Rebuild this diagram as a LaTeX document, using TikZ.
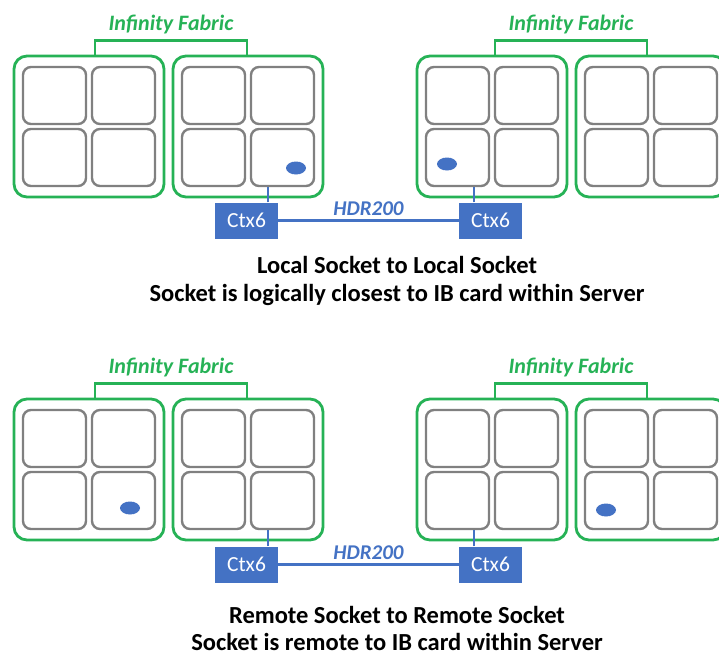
\documentclass[tikz,border=0pt]{standalone}
\usepackage{fontspec}
\setmainfont{Carlito}
\usetikzlibrary{positioning}
\usetikzlibrary{shapes.geometric}

\definecolor{fabricgreen}{RGB}{38,178,86}
\definecolor{coregray}{RGB}{128,128,128}
\definecolor{ibblue}{RGB}{68,114,196}

\tikzset{
    socket/.style={draw=fabricgreen, line width=2.8pt, rounded corners=13pt,
        minimum width=150pt, minimum height=141pt, inner sep=0pt},
    core/.style={draw=coregray, line width=2.4pt, rounded corners=8pt,
        minimum width=63pt, minimum height=57pt, inner sep=0pt},
    fabric/.style={draw=fabricgreen, line width=2.8pt},
    fabriclabel/.style={text=fabricgreen, font=\fontsize{22}{26}\selectfont\bfseries\itshape},
    ctx/.style={fill=ibblue, text=white, minimum width=63pt, minimum height=36pt,
        inner sep=0pt, font=\fontsize{21.5}{24}\selectfont},
    ib/.style={draw=ibblue, line width=2.6pt},
    iblabel/.style={text=ibblue, font=\fontsize{21}{24}\selectfont\bfseries\itshape},
    rank/.style={ellipse, fill=ibblue, minimum width=20pt, minimum height=13pt, inner sep=0pt},
    caption/.style={font=\fontsize{24.5}{28}\selectfont\bfseries, inner sep=1pt},
}

\begin{document}
\begin{tikzpicture}[x=1pt, y=-1pt]
    \useasboundingbox (0,0) rectangle (719,658);
    \clip (0,0) rectangle (719,658);

    % Sockets and cores, top row (t) and bottom row (b)
    \foreach \rw/\yo in {t/0, b/343} {
        \foreach \sk/\xo in {1/14, 2/173, 3/417, 4/576} {
            \node[socket] (\rw\sk) at (\xo+75, \yo+126.5) {};
            \foreach \cn/\dx/\dy in {1/0/0, 2/69/0, 3/0/62, 4/69/62}
                \node[core] (\rw\sk c\cn) at (\xo+40.5+\dx, \yo+95.5+\dy) {};
        }
    }

    % Infinity Fabric links
    \foreach \rw in {t, b} {
        \draw[fabric] ([xshift=6pt]\rw1.north) -- ++(0,14pt)
            -| node[fabriclabel, pos=0.25, above=2pt] {Infinity Fabric} ([xshift=-1pt]\rw2.north);
        \draw[fabric] ([xshift=3pt]\rw3.north) -- ++(0,14pt)
            -| node[fabriclabel, pos=0.25, above=2pt] {Infinity Fabric} ([xshift=-4pt]\rw4.north);
    }

    % IB cards
    \node[ctx] (tx1) at (246.5, 220.5) {Ctx6};
    \node[ctx] (tx2) at (490.5, 220.5) {Ctx6};
    \node[ctx] (bx1) at (246.5, 564.5) {Ctx6};
    \node[ctx] (bx2) at (490.5, 564.5) {Ctx6};

    % Ranks
    \node[rank] (tr1) at (296, 168) {};
    \node[rank] (tr2) at (447, 164) {};
    \node[rank] (br1) at (130, 508) {};
    \node[rank] (br2) at (606, 510) {};

    % Lines
    \foreach \rw in {t, b} {
        \draw[ib] ([xshift=21.5pt]\rw x1.north) -- ([xshift=21.5pt]\rw x1.north |- \rw2c4.south);
        \draw[ib] ([xshift=-16.5pt]\rw x2.north) -- ([xshift=-16.5pt]\rw x2.north |- \rw3c3.south);
        \draw[ib] (\rw x1) -- node[iblabel, above=0pt] {HDR200} (\rw x2);
    }

    % Captions
    \node[caption] (tcap1) at (397, 265) {Local Socket to Local Socket};
    \node[caption, below=8.5pt of tcap1] (tcap2) {Socket is logically closest to IB card within Server};
    \node[caption] (bcap1) at (397, 615) {Remote Socket to Remote Socket};
    \node[caption, below=7pt of bcap1] (bcap2) {Socket is remote to IB card within Server};
\end{tikzpicture}
\end{document}
